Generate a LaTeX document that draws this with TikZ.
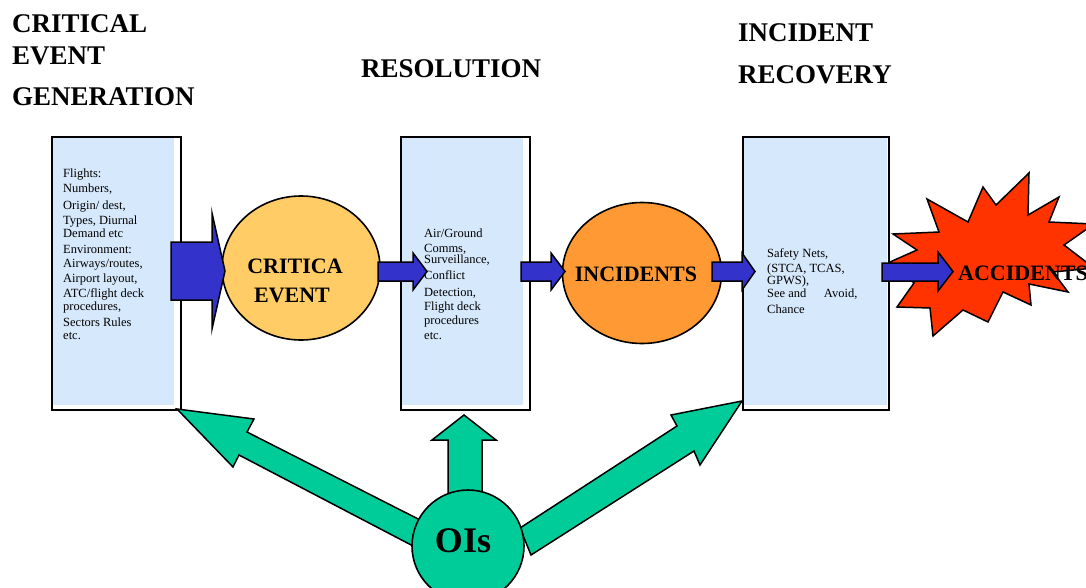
\documentclass[tikz,border=0pt]{standalone}
\usepackage{fontspec}
\setmainfont{Liberation Serif}
\usetikzlibrary{shapes.geometric}
\definecolor{boxblue}{RGB}{214,232,252}
\definecolor{eventfill}{RGB}{255,204,102}
\definecolor{incfill}{RGB}{255,153,51}
\definecolor{flowblue}{RGB}{51,51,204}
\definecolor{oigreen}{RGB}{0,204,153}
\definecolor{burstred}{RGB}{255,51,0}
\begin{document}
\begin{tikzpicture}[x=1pt,y=-1pt,
  title/.style={font=\fontsize{27}{30}\selectfont\bfseries, anchor=base west, inner sep=0pt},
  stagebox/.style={draw, line width=1.8pt, inner sep=0pt, outer sep=0pt},
  boxtext/.style={font=\fontsize{12.5}{14}\selectfont, anchor=base west, inner sep=0pt},
  blob/.style={ellipse, draw, line width=1.6pt, inner sep=0pt},
  blobtext/.style={font=\fontsize{22}{24}\selectfont\bfseries, anchor=base, inner sep=0pt},
  flow/.style={fill=flowblue, draw=black, line width=1.5pt, line join=miter},
  oiarrow/.style={fill=oigreen, draw=black, line width=1.5pt, line join=miter}]
\useasboundingbox (0,0) rectangle (1086,588);
\clip (0,0) rectangle (1086,588);

% stage headings
\node[title] (h1a) at (12,33) {CRITICAL};
\node[title] (h1b) at (12,65) {EVENT};
\node[title] (h1c) at (12,106) {GENERATION};
\node[title] (h2) at (361,78) {RESOLUTION};
\node[title] (h3a) at (738,42) {INCIDENT};
\node[title] (h3b) at (738,84) {RECOVERY};

% stage boxes
\node[stagebox, minimum width=129pt, minimum height=273pt] (gen) at (116.5,273.5) {};
\node[stagebox, minimum width=129pt, minimum height=273pt] (res) at (465.5,273.5) {};
\node[stagebox, minimum width=146pt, minimum height=273pt] (rec) at (816,273.5) {};
\fill[boxblue] ([shift={(1pt,-1pt)}]gen.north west) rectangle ([shift={(-7pt,5pt)}]gen.south east);
\fill[boxblue] ([shift={(1pt,-1pt)}]res.north west) rectangle ([shift={(-7pt,5pt)}]res.south east);
\fill[boxblue] ([shift={(1pt,-1pt)}]rec.north west) rectangle ([shift={(-2pt,5pt)}]rec.south east);
\draw[line width=1.8pt] (gen.north west) rectangle (gen.south east);
\draw[line width=1.8pt] (res.north west) rectangle (res.south east);
\draw[line width=1.8pt] (rec.north west) rectangle (rec.south east);

% box contents
\foreach \t/\y [count=\i] in {{Flights:}/178, {Numbers,}/193, {Origin/ dest,}/209,
    {Types, Diurnal}/224, {Demand etc}/237, {Environment:}/253, {Airways/routes,}/267,
    {Airport layout,}/282, {ATC/flight deck}/297, {procedures,}/310,
    {Sectors Rules}/326, {etc.}/339}
  \node[boxtext] (gen-\i) at (63,\y) {\t};
\foreach \t/\y [count=\i] in {{Air/Ground}/237, {Comms,}/252, {Surveillance,}/263,
    {Conflict}/279, {Detection,}/296, {Flight deck}/310, {procedures}/324, {etc.}/339}
  \node[boxtext] (res-\i) at (424,\y) {\t};
\foreach \t/\y [count=\i] in {{Safety Nets,}/257, {(STCA, TCAS,}/272, {GPWS),}/284,
    {See and\hspace{1.4em}Avoid,}/297, {Chance}/313}
  \node[boxtext] (rec-\i) at (767,\y) {\t};

% events
\node[blob, fill=eventfill, minimum width=158pt, minimum height=144pt] (crit) at (301,268) {};
\node[blobtext] (critA) at (295,273) {CRITICA};
\node[blobtext] (critB) at (292,302) {EVENT};
\node[blob, fill=incfill, minimum width=159pt, minimum height=141pt] (inc) at (642,273) {};
\node[blobtext] (incT) at (636,281) {INCIDENTS};

% accident burst
\draw[fill=burstred, line width=1.5pt, line join=miter]
  (893,234) -- (939,232) -- (927,199) -- (968,222) -- (983,187) -- (996,205)
  -- (1029,173) -- (1028,215) -- (1059,197) -- (1049,222) -- (1094,224)
  -- (1064,245) -- (1094,268) -- (1053,272) -- (1068,292) -- (1029,284)
  -- (1031,305) -- (1003,292) -- (988,322) -- (963,310) -- (933,336)
  -- (930,308) -- (897,307) -- (914,283) -- (890,262) -- (917,250) -- cycle;

% flow arrows between stages
\draw[flow] (171,242) -- (212,242) -- (212,213) -- (225,271) -- (212,329) -- (212,300) -- (171,300) -- cycle;
\draw[flow] (378,262) -- (413,262) -- (413,253) -- (427,271.5) -- (413,290) -- (413,281) -- (378,281) -- cycle;
\draw[flow] (521,262) -- (551,262) -- (551,253) -- (565,271.5) -- (551,290) -- (551,281) -- (521,281) -- cycle;
\draw[flow] (712,262) -- (742,262) -- (742,253) -- (755,271.5) -- (742,290) -- (742,281) -- (712,281) -- cycle;
\draw[flow] (882,263) -- (938,263) -- (938,252) -- (953,271.5) -- (938,291) -- (938,281) -- (882,281) -- cycle;
\node[blobtext, anchor=base west] (acc) at (958,280) {ACCIDENTS};

% OI arrows
\draw[oiarrow] (177,409) -- (254,419) -- (247,432) -- (428,524) -- (415,547) -- (239,455) -- (233,467) -- cycle;
\draw[oiarrow] (742,401) -- (700,465) -- (694,451) -- (531,555) -- (520,528) -- (677,426) -- (671,415) -- cycle;
\draw[oiarrow] (464,415) -- (496,440) -- (482,440) -- (482,512) -- (448,512) -- (448,440) -- (432,440) -- cycle;
\node[blob, circle, fill=oigreen, minimum size=112pt] (ois) at (468,546) {};
\node[font=\fontsize{36}{38}\selectfont\bfseries, anchor=base, inner sep=0pt] (oisT) at (463,552) {OIs};
\end{tikzpicture}
\end{document}
